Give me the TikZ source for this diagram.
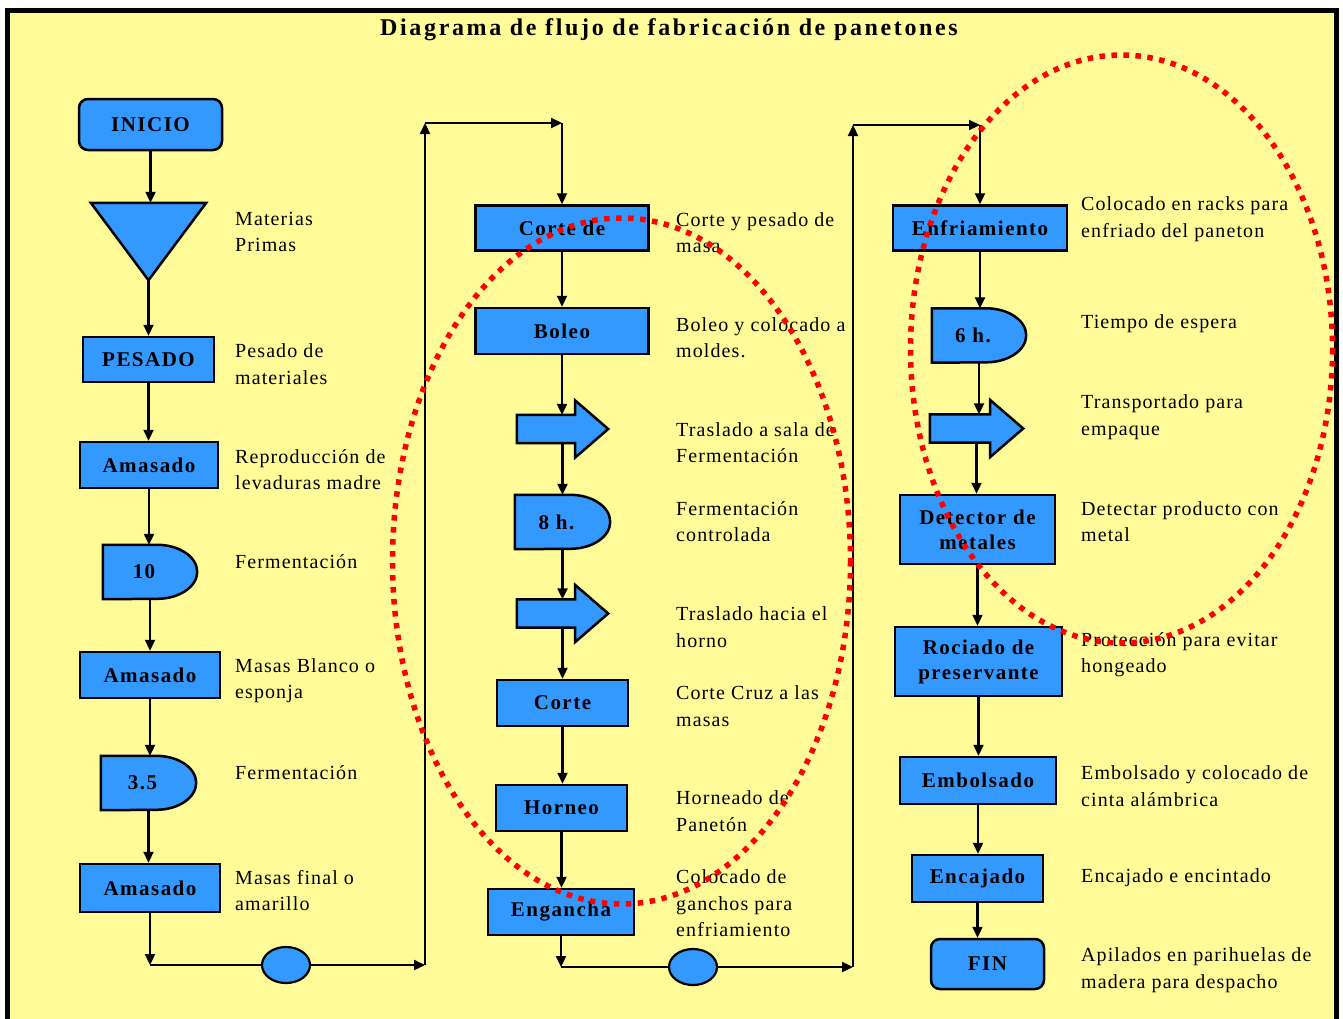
\documentclass[tikz,border=0pt]{standalone}
\usepackage{fontspec}
\usetikzlibrary{arrows.meta,calc,shapes.geometric}
\definecolor{paper}{RGB}{255,251,153}
\definecolor{boxblue}{RGB}{51,153,255}
\newfontfamily\descfont{Liberation Serif}[LetterSpace=5.5]
\newfontfamily\boxfont{Liberation Serif}[LetterSpace=7]
\newfontfamily\headfont{Liberation Serif}[LetterSpace=11]
\pgfdeclarelayer{paperlayer}
\pgfdeclarelayer{symbols}
\pgfsetlayers{paperlayer,symbols,main}
% delay symbol: flat left side, half-ellipse on the right
\newcommand\holdshape[1]{\draw[symb] (#1.north west) -- ($(#1.north east)+(-40,0)$)
  arc[start angle=90,end angle=-90,x radius=40pt,y radius=27pt] -- (#1.south west) -- cycle;}
% transport symbol: block arrow pointing right
\newcommand\movearrow[1]{\draw[symb] (#1.north west) -- ($(#1.north east)+(-33,0)$)
  -- ($(#1.east)+(-33,-28.5)$) -- (#1.east) -- ($(#1.east)+(-33,28.5)$)
  -- ($(#1.south east)+(-33,0)$) -- (#1.south west) -- cycle;}
% vertical flow arrow between two stacked nodes
\newcommand\flow[2]{\draw[conn] (#1.south) -- (#1.south |- #2.north);}
\begin{document}
\begin{tikzpicture}[x=1pt,y=-1pt,
  conn/.style={line width=2.2pt,-{Triangle[length=11pt,width=10pt]}},
  plainline/.style={line width=2.2pt},
  boxtext/.style={font=\boxfont\bfseries\fontsize{21}{25}\selectfont},
  proc/.style={boxtext,draw=black,line width=2.5pt,fill=boxblue,inner sep=0pt,align=center},
  term/.style={proc,rounded corners=9pt},
  holder/.style={boxtext,inner sep=0pt},
  symb/.style={draw=black,line width=2.5pt,fill=boxblue,line join=miter},
  junction/.style={ellipse,draw=black,line width=2.2pt,fill=boxblue,inner sep=0pt,minimum width=48pt,minimum height=36pt},
  desc/.style={anchor=west,inner sep=0pt,align=left,font=\descfont\fontsize{20}{26.5}\selectfont},
  reddots/.style={draw=red,line width=5.5pt,dash pattern=on 5.5pt off 6.5pt}]
\useasboundingbox (0,0) rectangle (1343,1018);
\begin{pgfonlayer}{paperlayer}
  \fill[white] (0,0) rectangle (1343,1018);
  \draw[fill=paper,line width=5pt] (7.5,10) rectangle (1336.5,1040);
\end{pgfonlayer}

\node[font=\headfont\bfseries\fontsize{24}{28}\selectfont,inner sep=0pt] (title) at (669,30)
  {Diagrama de flujo de fabricación de panetones};

% ---- first column ----
\node[term,minimum width=143pt,minimum height=51pt] (inicio) at (150.5,124.5) {INICIO};
\node[holder,minimum width=115pt,minimum height=77pt] (mp) at (148.5,241.5) {};
\node[proc,minimum width=131pt,minimum height=45pt] (pesado) at (148.5,359.5) {PESADO};
\node[proc,minimum width=138pt,minimum height=46pt] (amas1) at (149,465) {Amasado};
\node[holder,minimum width=94pt,minimum height=54pt] (d10) at (150,572) {\kern-12pt 10};
\node[proc,minimum width=140pt,minimum height=46pt] (amas2) at (150,675) {Amasado};
\node[holder,minimum width=95pt,minimum height=54pt] (d35) at (148.5,783) {\kern-12pt 3.5};
\node[proc,minimum width=140pt,minimum height=48pt] (amas3) at (150,888) {Amasado};
\coordinate (c1) at (150,965);
\node[junction] (e1) at (286,965) {};
\coordinate (c2) at (425,965);
\coordinate (c3) at (425,123);
\coordinate (c4) at (562,123);

% ---- second column ----
\node[proc,minimum width=173pt,minimum height=45pt] (corte1) at (562,228) {Corte de};
\node[proc,minimum width=173pt,minimum height=46pt] (boleo) at (562,331) {Boleo};
\node[holder,minimum width=91pt,minimum height=28pt] (tr1) at (562.5,429) {};
\node[holder,minimum width=95pt,minimum height=54pt] (d8) at (562.5,522) {\kern-12pt 8 h.};
\node[holder,minimum width=91pt,minimum height=28pt] (tr2) at (562.5,613.5) {};
\node[proc,minimum width=131pt,minimum height=46pt] (corte2) at (562.5,703) {Corte};
\node[proc,minimum width=131pt,minimum height=46pt] (horneo) at (561.5,808) {Horneo};
\node[proc,minimum width=146pt,minimum height=46pt] (engancha) at (561,912) {Engancha};
\coordinate (c5) at (561,967);
\node[junction] (e2) at (693,967) {};
\coordinate (c6) at (853,967);
\coordinate (c7) at (853,125);
\coordinate (c8) at (980,125);

% ---- third column ----
\node[proc,minimum width=174pt,minimum height=45pt] (enfr) at (980,228) {Enfriamiento};
\node[holder,minimum width=94pt,minimum height=54pt] (d6) at (979,335.5) {\kern-12pt 6 h.};
\node[holder,minimum width=93pt,minimum height=28pt] (tr3) at (976.5,428.5) {};
\node[proc,minimum width=155pt,minimum height=69pt] (detector) at (977.5,529.5) {Detector de\\metales};
\node[proc,minimum width=167pt,minimum height=69pt] (rociado) at (978.5,661.5) {Rociado de\\preservante};
\node[proc,minimum width=156pt,minimum height=47pt] (embolsado) at (978,780.5) {Embolsado};
\node[proc,minimum width=131pt,minimum height=47pt] (encajado) at (977.5,878.5) {Encajado};
\node[term,minimum width=113pt,minimum height=50pt] (fin) at (987.5,964) {FIN};

% ---- symbols behind their labels ----
\begin{pgfonlayer}{symbols}
  \draw[symb] (mp.north west) -- (mp.north east) -- (mp.south) -- cycle;
  \holdshape{d10}
  \holdshape{d35}
  \holdshape{d8}
  \holdshape{d6}
  \movearrow{tr1}
  \movearrow{tr2}
  \movearrow{tr3}
\end{pgfonlayer}

% ---- connectors ----
\flow{inicio}{mp}
\flow{mp}{pesado}
\flow{pesado}{amas1}
\flow{amas1}{d10}
\flow{d10}{amas2}
\flow{amas2}{d35}
\flow{d35}{amas3}
\draw[conn] (amas3.south) -- (c1);
\draw[plainline] (c1) -- (e1.west);
\draw[conn] (e1.east) -- (c2);
\draw[conn] (c2) -- (c3);
\draw[conn] (c3) -- (c4);
\draw[conn] (c4) -- (corte1.north);

\flow{corte1}{boleo}
\flow{boleo}{tr1}
\flow{tr1}{d8}
\flow{d8}{tr2}
\flow{tr2}{corte2}
\flow{corte2}{horneo}
\flow{horneo}{engancha}
\draw[conn] (engancha.south) -- (c5);
\draw[plainline] (c5) -- (e2.west);
\draw[conn] (e2.east) -- (c6);
\draw[conn] (c6) -- (c7);
\draw[conn] (c7) -- (c8);
\draw[conn] (c8) -- (enfr.north);

\flow{enfr}{d6}
\flow{d6}{tr3}
\flow{tr3}{detector}
\flow{detector}{rociado}
\flow{rociado}{embolsado}
\flow{embolsado}{encajado}
\flow{encajado}{fin}

% ---- step descriptions ----
\node[desc] (t1) at (235,232) {Materias\\Primas};
\node[desc] (t2) at (235,364) {Pesado de\\materiales};
\node[desc] (t3) at (235,469.5) {Reproducción de\\levaduras madre};
\node[desc] (t4) at (235,562) {Fermentación};
\node[desc] (t5) at (235,680.5) {Masas Blanco o\\esponja};
\node[desc] (t6) at (235,773) {Fermentación};
\node[desc] (t7) at (235,890.5) {Masas final o\\amarillo};

\node[desc] (t8) at (676,232.5) {Corte y pesado de\\masa};
\node[desc] (t9) at (676,337.5) {Boleo y colocado a\\moldes.};
\node[desc] (t10) at (676,442.5) {Traslado a sala de\\Fermentación};
\node[desc] (t11) at (676,521.5) {Fermentación\\controlada};
\node[desc] (t12) at (676,627) {Traslado hacia el\\horno};
\node[desc] (t13) at (676,706) {Corte Cruz a las\\masas};
\node[desc] (t14) at (676,811) {Horneado de\\Panetón};
\node[desc] (t15) at (676,903.5) {Colocado de\\ganchos para\\enfriamiento};

\node[desc] (t16) at (1081,219) {Colocado en racks para\\enfriado del paneton};
\node[desc] (t17) at (1081,324) {Tiempo de espera};
\node[desc] (t18) at (1081,417) {Transportado para\\empaque};
\node[desc] (t19) at (1081,521.5) {Detectar producto con\\metal};
\node[desc] (t20) at (1081,654.5) {Protección para evitar\\hongeado};
\node[desc] (t21) at (1081,786) {Embolsado y colocado de\\cinta alámbrica};
\node[desc] (t22) at (1081,878) {Encajado e encintado};
\node[desc] (t23) at (1081,970) {Apilados en parihuelas de\\madera para despacho};

% ---- highlighted groups ----
\draw[reddots] (621.5,561) ellipse [x radius=229, y radius=343];
\draw[reddots] (1121.5,349) ellipse [x radius=211, y radius=294];
\end{tikzpicture}
\end{document}
